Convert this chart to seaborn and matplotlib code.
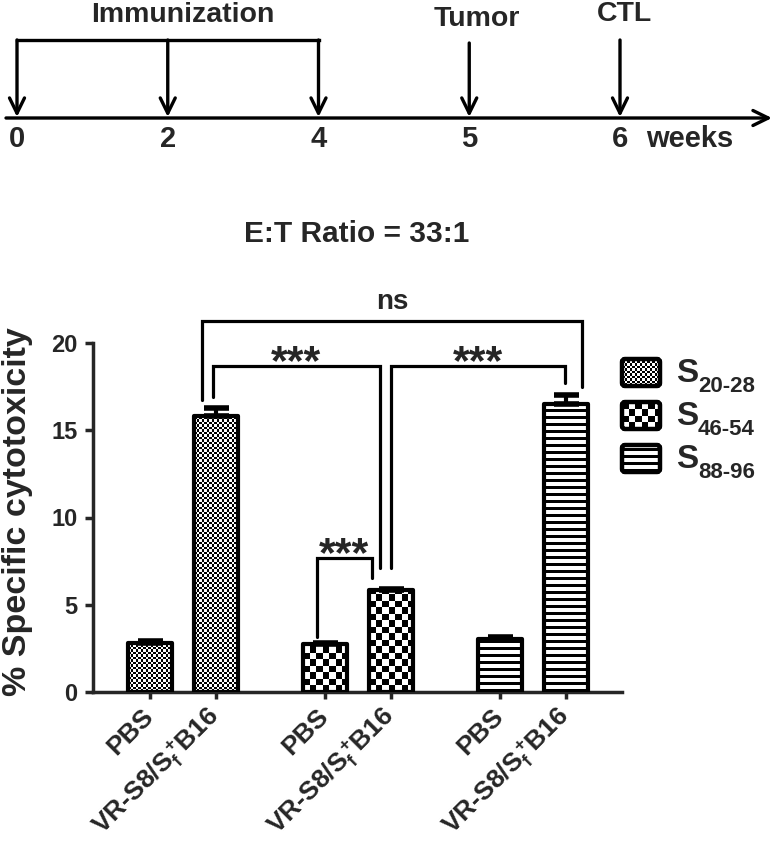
import numpy as np
import pandas as pd
import matplotlib
matplotlib.use("Agg")
import matplotlib.pyplot as plt
from matplotlib.patches import FancyBboxPatch
import seaborn as sns

# ---------------- data ----------------
antigens = ["S20-28", "S46-54", "S88-96"]
legend_subs = ["20-28", "46-54", "88-96"]
treatments = ["PBS", "VR-S8/$\\mathbf{S_f^+\\!B16}$"]
pbs_values = [2.8, 2.75, 3.05]
pbs_errors = [0.12, 0.06, 0.12]
vr_values = [15.8, 5.85, 16.5]
vr_errors = [0.45, 0.08, 0.5]
yticks = [0, 5, 10, 15, 20]
title_text = "E:T Ratio = 33:1"
ylabel_text = "% Specific cytotoxicity"
timeline_weeks = ["0", "2", "4", "5", "6"]
timeline_unit = "weeks"
timeline_events = ["Immunization", "Tumor", "CTL"]
# comparisons: (bar a, bar b, label)
comparisons = [(2, 3, "***"), (1, 3, "***"), (3, 5, "***"), (1, 5, "ns")]

# ---------------- style ----------------
sns.set_style("ticks")
plt.rcParams["font.family"] = ["Liberation Sans", "DejaVu Sans"]
plt.rcParams["font.weight"] = "bold"
plt.rcParams["mathtext.fontset"] = "custom"
plt.rcParams["mathtext.bf"] = "Liberation Sans:bold"
plt.rcParams["mathtext.rm"] = "Liberation Sans:bold"

W, H = 774, 858
GROUP_STEP = 2.65
BAR_W = 0.67
# bracket geometry: (dx_a, dx_b, top, bottom_a, bottom_b)
bracket_geom = [(-0.12, -0.29, 7.68, 3.15, 6.53),
                (-0.05, -0.17, 18.68, 16.9, 7.1),
                (0.0, -0.01, 18.68, 7.1, 17.7),
                (-0.21, 0.25, 21.26, 16.73, 17.48)]

values = [v for pair in zip(pbs_values, vr_values) for v in pair]
errors = [e for pair in zip(pbs_errors, vr_errors) for e in pair]
positions = [g * GROUP_STEP + t for g in range(len(antigens)) for t in range(2)]
df = pd.DataFrame({
    "antigen": np.repeat(antigens, 2),
    "pos": positions,
    "value": values,
})

fig = plt.figure(figsize=(W / 100, H / 100), dpi=100)
ax = fig.add_axes([93 / W, (H - 692) / H, 529 / W, 349 / H])

sns.barplot(data=df, x="pos", y="value", hue="antigen", native_scale=True,
            dodge=False, errorbar=None, width=BAR_W,
            palette=["white"] * len(antigens), edgecolor="black",
            linewidth=3.0, legend=False, ax=ax, zorder=3)

XLIM = ((93 - 150) / 66, (622 - 150) / 66)
ax.set_xlim(*XLIM)
ax.set_ylim(0, 20)


def pattern(kind, w, h):
    yy, xx = np.mgrid[0:h, 0:w]
    if kind == 0:
        c = 2.5
        return (np.floor(xx / c) + np.floor(yy / c)) % 2
    if kind == 1:
        c = 6.5
        return (np.floor(xx / c) + np.floor(yy / c)) % 2
    return ((yy % 7) < 3).astype(float)


def fill_patch(axis, patch, kind, ext):
    x0, x1, y0, y1 = ext
    d0 = axis.transData.transform((x0, y0))
    d1 = axis.transData.transform((x1, y1))
    wp = max(int(np.ceil(abs(d1[0] - d0[0]))), 1)
    hp = max(int(np.ceil(abs(d1[1] - d0[1]))), 1)
    arr = pattern(kind, wp, hp)
    im = axis.imshow(arr, extent=(x0, x1, y0, y1), origin="lower",
                     cmap="gray_r", vmin=0, vmax=1, interpolation="nearest",
                     aspect="auto", zorder=patch.get_zorder() - 0.5)
    im.set_clip_path(patch)


pos_arr = np.array(positions)
for p in list(ax.patches):
    bx, by, bw, bh = p.get_x(), p.get_y(), p.get_width(), p.get_height()
    i = int(np.argmin(np.abs(pos_arr - (bx + bw / 2))))
    p.set_zorder(3)
    p.set_joinstyle("round")
    fill_patch(ax, p, i // 2, (bx, bx + bw, by, by + bh))
    p.set_facecolor("none")

ax.errorbar(positions, values, yerr=[np.zeros(len(values)), errors],
            fmt="none", ecolor="black", elinewidth=3, capsize=9, capthick=4,
            zorder=4, clip_on=False)

# significance brackets
for (a, b, lab), (dxa, dxb, top, ba, bb) in zip(comparisons, bracket_geom):
    xa, xb = positions[a] + dxa, positions[b] + dxb
    ax.plot([xa, xa, xb, xb], [ba, top, top, bb], color="black", lw=2.3,
            clip_on=False, solid_joinstyle="miter", zorder=5)
    if lab == "ns":
        ax.annotate(lab, xy=((xa + xb) / 2, top), xytext=(0, 9),
                    textcoords="offset points", ha="center", va="baseline",
                    fontsize=20, annotation_clip=False)
    else:
        ax.annotate(lab, xy=((xa + xb) / 2, top), xytext=(0, -6),
                    textcoords="offset points", ha="center", va="baseline",
                    fontsize=31, annotation_clip=False)

ax.set_xlim(*XLIM)
ax.set_ylim(0, 20)
ax.set_yticks(yticks)
ax.set_yticklabels([str(v) for v in yticks])
ax.set_xticks(positions)
ax.set_xticklabels([treatments[t] for g in range(len(antigens)) for t in range(2)],
                   rotation=45, ha="right", va="center", rotation_mode="anchor")
ax.tick_params(axis="y", length=6, width=2.5, pad=5, labelsize=17)
ax.tick_params(axis="x", length=5, width=2.5, pad=10, labelsize=19)
ax.set_xlabel("")
ax.set_ylabel("")
for s in ["top", "right"]:
    ax.spines[s].set_visible(False)
for s in ["left", "bottom"]:
    ax.spines[s].set_linewidth(2.5)

# ---------------- overlay (pixel coordinates) ----------------
ov = fig.add_axes([0, 0, 1, 1], zorder=10)
ov.set_xlim(0, W)
ov.set_ylim(0, H)
ov.axis("off")
ov.patch.set_alpha(0)


def Y(y):
    return H - y


ov.text(357, Y(234), title_text, fontsize=21.5, ha="center", va="center")
ov.text(18, Y(512), ylabel_text, fontsize=24.5, rotation=90,
        ha="center", va="center")

# legend
for k, sub in enumerate(legend_subs):
    top = 357 + 43 * k
    box = FancyBboxPatch((622, Y(top + 29)), 38, 27,
                         boxstyle="round,pad=0,rounding_size=3",
                         facecolor="none", edgecolor="black", lw=3.2, zorder=3)
    ov.add_patch(box)
    fill_patch(ov, box, k, (622, 660, Y(top + 29), Y(top + 2)))
    ov.text(676, Y(top + 25), "S", fontsize=24, ha="left", va="baseline")
    ov.text(698, Y(top + 35), sub, fontsize=16, ha="left", va="baseline")

# timeline
step = (620 - 17) / 4
tx = [17 + i * step for i in range(len(timeline_weeks))]
arrow_kw = dict(arrowstyle="->,head_length=0.55,head_width=0.27", lw=2.4,
                color="black", shrinkA=0, shrinkB=0, mutation_scale=20)
ov.annotate("", xy=(772, Y(118)), xytext=(6, Y(118)), arrowprops=arrow_kw)
ov.plot([tx[0], tx[2]], [Y(40), Y(40)], color="black", lw=2.4,
        solid_capstyle="projecting")
for i in range(3):
    ov.annotate("", xy=(tx[i], Y(117)), xytext=(tx[i], Y(40)), arrowprops=arrow_kw)
ov.annotate("", xy=(tx[3], Y(117)), xytext=(tx[3], Y(43)), arrowprops=arrow_kw)
ov.annotate("", xy=(tx[4], Y(117)), xytext=(tx[4], Y(40)), arrowprops=arrow_kw)
ov.text((tx[0] + tx[2]) / 2 + 15, Y(15), timeline_events[0], fontsize=20.5,
        ha="center", va="center")
ov.text(tx[3] + 8, Y(19), timeline_events[1], fontsize=20.5, ha="center", va="center")
ov.text(tx[4] + 4, Y(14), timeline_events[2], fontsize=20.5, ha="center", va="center")
for x, lab in zip(tx, timeline_weeks):
    ov.text(x, Y(139), lab, fontsize=21, ha="center", va="center")
ov.text(690, Y(139), timeline_unit, fontsize=21, ha="center", va="center")

fig.savefig("out.png", dpi=100)
